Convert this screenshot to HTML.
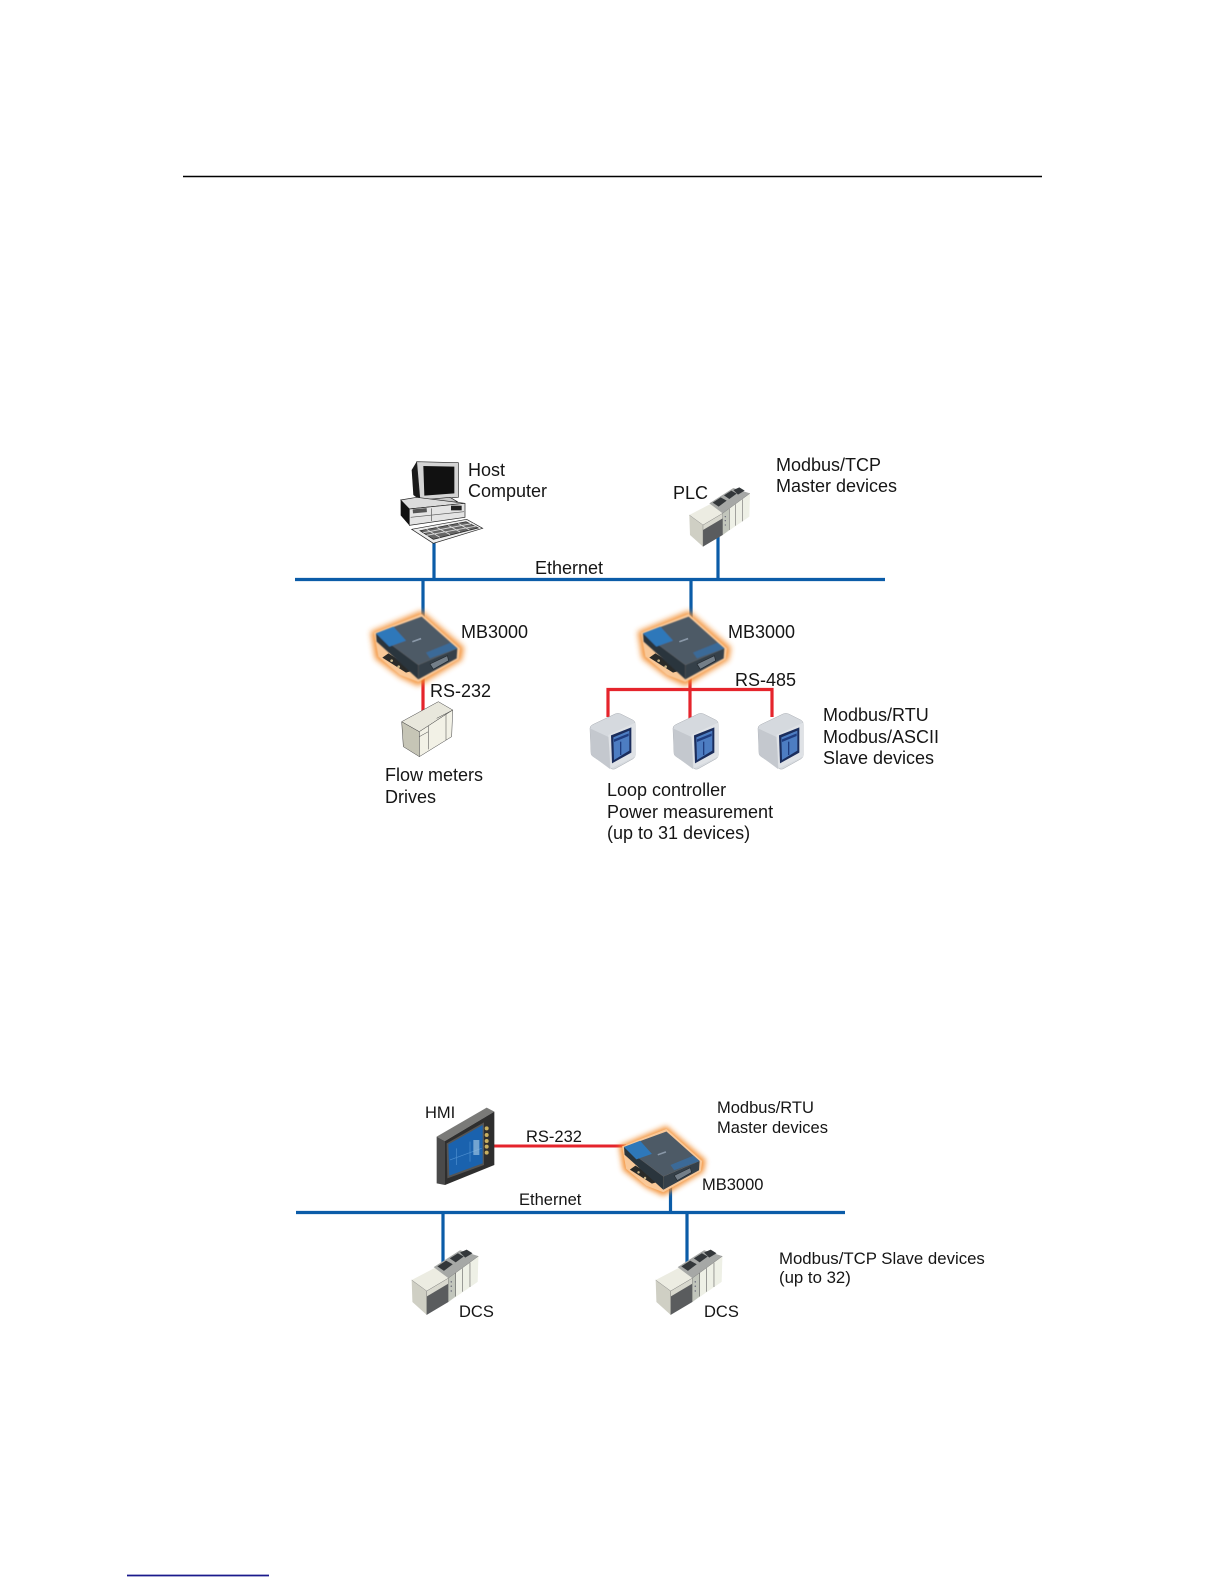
<!DOCTYPE html>
<html>
<head>
<meta charset="utf-8">
<style>
html,body{margin:0;padding:0;background:#fff}
svg{display:block}
text{font-family:"Liberation Sans",sans-serif;fill:#151515}
.a{font-size:18px}
.b{font-size:16.5px}
</style>
</head>
<body>
<svg width="1224" height="1584" viewBox="0 0 1224 1584" xmlns="http://www.w3.org/2000/svg">
<defs>
<filter id="glow" x="-30%" y="-30%" width="160%" height="160%"><feGaussianBlur stdDeviation="9"/></filter>
<filter id="soft" x="-5%" y="-5%" width="110%" height="110%"><feGaussianBlur stdDeviation="1.2"/></filter>
<g id="gw">
  <polygon points="62,125 215,62 342,172 335,210 205,288 150,262 75,205" fill="#f28a2a" filter="url(#glow)" opacity=".9"/>
  <polygon points="72,128 215,72 330,175 326,208 205,276 150,255 85,200" fill="#f9c898" filter="url(#soft)"/>
  <polygon points="97,203 115,190 195,240 168,248" fill="#2a2a28"/>
  <circle cx="125" cy="212" r="4" fill="#c9b58a"/><circle cx="146" cy="230" r="4" fill="#c9b58a"/>
  <g filter="url(#soft)">
  <polygon points="78,130 215,80 322,175 205,225" fill="#4d5a66"/>
  <polygon points="78,130 205,225 205,268 80,155" fill="#2a343d"/>
  <polygon points="205,225 322,175 320,205 205,268" fill="#343f48"/>
  <polygon points="78,130 130,110 168,152 118,170" fill="#2f78ba"/>
  <polygon points="240,205 322,175 302,158 228,188" fill="#3a6a98"/>
  </g>
  <polygon points="240,222 292,197 296,212 250,238" fill="#737e88" stroke="#20262c" stroke-width="2"/>
  <rect x="186" y="148" width="28" height="5" fill="#8a98a8" transform="rotate(-20 200 150)"/>
</g>
<g id="rack">
  <polygon points="118,135 159,165 159,230 120,195" fill="#cfcfc4"/>
  <polygon points="118,135 185,100 218,130 159,165" fill="#ecece2"/>
  <polygon points="159,165 218,130 218,195 159,230" fill="#5a5c5e"/>
  <polygon points="159,165 218,130 218,145 159,180" fill="#d8d8ce"/>
  <polygon points="218,130 300,70 298,140 218,195" fill="#eef0e6"/>
  <polygon points="218,130 238,116 238,180 218,195" fill="#c2c6bc"/>
  <path d="M238,116V180M257,103V167M277,88V154" stroke="#555" stroke-width="1.5" fill="none"/>
  <polygon points="178,100 250,54 300,70 218,130" fill="#a6a8a6"/>
  <polygon points="188,98 212,82 230,92 206,110" fill="#33373a"/>
  <polygon points="222,76 244,62 260,71 238,87" fill="#33373a"/>
  <polygon points="250,60 268,52 284,62 264,74" fill="#33373a"/>
  <path d="M118,135L159,165L218,130L300,70M159,165V230M218,130V195" stroke="#666" stroke-width="1" fill="none"/>
  <circle cx="226" cy="140" r="2" fill="#667"/><circle cx="226" cy="152" r="2" fill="#667"/><circle cx="226" cy="165" r="2" fill="#667"/>
</g>
<g id="slave">
  <path d="M30,85 Q30,78 38,74 L105,42 Q113,38 122,42 L158,60 Q166,64 166,74 L166,165 Q166,172 158,177 L108,205 Q100,210 92,205 L40,170 Q33,166 33,158 Z" fill="#d5d9de" stroke="#a8acb2" stroke-width="1.5"/>
  <path d="M30,85 L88,112 L90,207 L40,170 Q33,166 33,158 Z" fill="#c4c8ce"/>
  <polygon points="85,105 166,68 166,170 92,205" fill="#dfe2e6"/>
  <polygon points="93,106 154,82 154,158 96,190" fill="#1b2d5c"/>
  <polygon points="100,112 148,92 148,152 102,180" fill="#4d7dc2"/>
  <polygon points="102,118 146,100 146,108 102,126" fill="#1f3d80"/>
  <path d="M122,125V165" stroke="#1f3d80" stroke-width="4"/>
</g>
</defs>

<!-- page rules -->
<line x1="183" y1="176.5" x2="1042" y2="176.5" stroke="#000" stroke-width="1.5"/>
<line x1="127" y1="1575.5" x2="269" y2="1575.5" stroke="#1a1a8c" stroke-width="1.8"/>

<!-- connectors top -->
<g stroke="#0b5ca8" stroke-width="3.2" fill="none">
  <path d="M295,579.5H885"/>
  <path d="M434,540V579M718,535V579M423,579V620M691,579V620"/>
</g>
<g stroke="#e5242c" stroke-width="3.2" fill="none">
  <path d="M423,675V712"/>
  <path d="M608,717V689.5H772V717M690,675V720"/>
</g>

<!-- host computer -->
<g transform="translate(370,440) scale(.33333)">
  <polygon points="125,90 140,65 150,180 130,165" fill="#1a1a1a"/>
  <polygon points="140,65 265,68 265,172 150,180" fill="#d4d4d4" stroke="#222" stroke-width="2"/>
  <polygon points="160,78 253,80 253,160 163,167" fill="#111"/>
  <polygon points="135,182 240,172 262,185 160,197" fill="#c8c8c8" stroke="#222" stroke-width="2"/>
  <polygon points="92,180 140,172 285,190 118,207" fill="#dcdcdc" stroke="#222" stroke-width="2"/>
  <polygon points="92,180 118,207 118,256 92,226" fill="#111"/>
  <polygon points="118,207 285,190 285,232 118,256" fill="#e4e4e4" stroke="#222" stroke-width="2"/>
  <rect x="128" y="208" width="42" height="12" fill="#555" transform="rotate(-5 128 208)"/>
  <rect x="243" y="197" width="32" height="14" fill="#222"/>
  <path d="M185,205V243M122,232L282,215" stroke="#555" stroke-width="2" fill="none"/>
  <polygon points="125,268 290,238 338,265 190,310" fill="#eee" stroke="#222" stroke-width="2"/>
  <polygon points="150,272 288,245 325,264 190,298" fill="#666" stroke="#222" stroke-width="2"/>
  <path d="M170,268L210,292M200,262L240,284M235,256L270,276M265,250L298,270M160,278L310,250M170,286L320,258" stroke="#ddd" stroke-width="2.5" fill="none"/>
</g>

<!-- PLC -->
<g transform="translate(650,470) scale(.33333)"><use href="#rack"/></g>

<!-- gateways -->
<g transform="translate(350,590) scale(.33333)"><use href="#gw"/></g>
<g transform="translate(617,590) scale(.33333)"><use href="#gw"/></g>

<!-- flow meter device -->
<g transform="translate(350,590) scale(.33333)" stroke="#444" stroke-width="1.5">
  <polygon points="155,395 208,425 208,500 160,470" fill="#c6c5b6"/>
  <polygon points="155,395 265,335 308,360 208,425" fill="#e8e7dc"/>
  <polygon points="208,425 308,360 305,440 208,500" fill="#f2f1e6"/>
  <path d="M235,408V478M288,372V450M208,440L235,425M260,385L305,362" fill="none"/>
</g>

<!-- slaves -->
<g transform="translate(580,700) scale(.33333)"><use href="#slave"/></g>
<g transform="translate(663,700) scale(.33333)"><use href="#slave"/></g>
<g transform="translate(748,700) scale(.33333)"><use href="#slave"/></g>

<!-- connectors bottom -->
<g stroke="#0b5ca8" stroke-width="3.2" fill="none">
  <path d="M296,1212.5H845"/>
  <path d="M670.5,1185V1212M443,1212V1268M687,1212V1268"/>
</g>
<path d="M494,1146H626" stroke="#e5242c" stroke-width="3" fill="none"/>

<!-- HMI -->
<g transform="translate(410,1085) scale(.33333)">
  <polygon points="80,155 230,68 253,80 105,168" fill="#7a7a78"/>
  <polygon points="80,155 105,168 105,300 80,295" fill="#4a4a4a"/>
  <polygon points="105,168 253,80 253,240 105,300" fill="#2e2e2e"/>
  <polygon points="110,175 222,112 222,240 112,280" fill="#555"/>
  <polygon points="115,178 218,120 218,235 118,272" fill="#1a62ae"/>
  <path d="M140,190V240M180,170V230M120,225L215,190" stroke="#4d8fd0" stroke-width="2" fill="none"/>
  <rect x="190" y="165" width="18" height="45" fill="#9ac0e0" opacity=".7"/>
  <g fill="#c8b060"><circle cx="230" cy="130" r="6"/><circle cx="230" cy="150" r="6"/><circle cx="230" cy="168" r="6"/><circle cx="230" cy="185" r="6"/><circle cx="230" cy="203" r="6"/></g>
</g>

<!-- gateway 3 -->
<g transform="translate(599.8,1106.7) scale(.31)"><use href="#gw"/></g>

<!-- DCS -->
<g transform="translate(368.4,1230.5) scale(.3667)"><use href="#rack"/></g>
<g transform="translate(612.4,1230.5) scale(.3667)"><use href="#rack"/></g>

<!-- labels top -->
<g class="a">
<text x="468" y="476">Host</text>
<text x="468" y="497">Computer</text>
<text x="776" y="471">Modbus/TCP</text>
<text x="776" y="492">Master devices</text>
<text x="673" y="499">PLC</text>
<text x="535" y="574">Ethernet</text>
<text x="461" y="638">MB3000</text>
<text x="728" y="638">MB3000</text>
<text x="430" y="697">RS-232</text>
<text x="735" y="686">RS-485</text>
<text x="385" y="781">Flow meters</text>
<text x="385" y="803">Drives</text>
<text x="607" y="796">Loop controller</text>
<text x="607" y="818">Power measurement</text>
<text x="607" y="839">(up to 31 devices)</text>
<text x="823" y="721">Modbus/RTU</text>
<text x="823" y="743">Modbus/ASCII</text>
<text x="823" y="764">Slave devices</text>
</g>
<!-- labels bottom -->
<g class="b">
<text x="425" y="1118">HMI</text>
<text x="526" y="1142">RS-232</text>
<text x="717" y="1113">Modbus/RTU</text>
<text x="717" y="1133">Master devices</text>
<text x="702" y="1190">MB3000</text>
<text x="519" y="1205">Ethernet</text>
<text x="779" y="1264" style="font-size:16.8px">Modbus/TCP Slave devices</text>
<text x="779" y="1283" style="font-size:16.8px">(up to 32)</text>
<text x="459" y="1317">DCS</text>
<text x="704" y="1317">DCS</text>
</g>
</svg>
</body>
</html>
